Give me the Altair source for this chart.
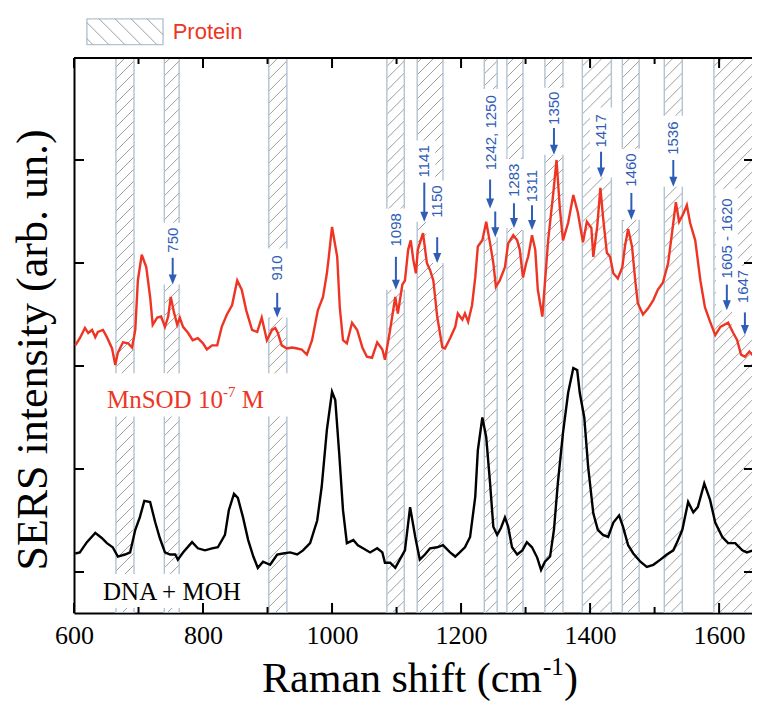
import altair as alt
import pandas as pd

# ---------------- data ----------------
wn_red = [602, 609, 617, 622, 628, 633, 637, 645, 651, 659,
          664, 668, 676, 684, 690, 695, 699, 705, 712, 718,
          722, 729, 735, 741, 746, 750, 755, 760, 764, 769,
          777, 784, 792, 800, 806, 814, 822, 829, 837, 845,
          853, 860, 867, 876, 884, 891, 899, 907, 912, 916,
          922, 930, 938, 946, 953, 961, 969, 978, 986, 992,
          995, 1000, 1008, 1012, 1017, 1023, 1031, 1039, 1047, 1054,
          1062, 1070, 1078, 1082, 1090, 1098, 1102, 1109, 1113, 1118,
          1122, 1126, 1130, 1133, 1141, 1147, 1152, 1157, 1163, 1171,
          1175, 1183, 1191, 1195, 1202, 1206, 1211, 1217, 1222, 1226,
          1233, 1239, 1245, 1250, 1254, 1260, 1268, 1273, 1281, 1287,
          1291, 1296, 1301, 1304, 1310, 1315, 1319, 1326, 1330, 1335,
          1343, 1348, 1353, 1358, 1366, 1374, 1381, 1389, 1395, 1402,
          1405, 1411, 1416, 1420, 1426, 1431, 1436, 1443, 1450, 1454,
          1459, 1465, 1470, 1474, 1482, 1490, 1498, 1505, 1513, 1521,
          1527, 1533, 1538, 1544, 1550, 1555, 1563, 1571, 1578, 1586,
          1594, 1602, 1614, 1622, 1628, 1634, 1640, 1647, 1654, 1664]
int_red = [2.20, 2.27, 2.37, 2.32, 2.35, 2.28, 2.33, 2.35, 2.28, 2.17,
           2.01, 2.13, 2.23, 2.22, 2.18, 2.35, 2.83, 3.08, 2.96, 2.67,
           2.40, 2.47, 2.48, 2.38, 2.48, 2.67, 2.52, 2.40, 2.47, 2.38,
           2.32, 2.25, 2.27, 2.22, 2.16, 2.20, 2.20, 2.38, 2.50, 2.59,
           2.83, 2.74, 2.54, 2.35, 2.33, 2.47, 2.25, 2.35, 2.37, 2.32,
           2.20, 2.17, 2.18, 2.17, 2.16, 2.11, 2.25, 2.54, 2.67, 2.90,
           3.06, 3.35, 3.06, 2.57, 2.25, 2.22, 2.42, 2.35, 2.18, 2.09,
           2.08, 2.23, 2.16, 2.06, 2.35, 2.67, 2.51, 2.79, 2.83, 3.13,
           3.22, 3.03, 2.90, 3.13, 3.29, 3.00, 2.93, 2.83, 2.48, 2.18,
           2.17, 2.27, 2.38, 2.51, 2.45, 2.51, 2.43, 2.59, 2.86, 3.16,
           3.22, 3.40, 3.19, 3.00, 2.77, 2.83, 2.96, 3.19, 3.27, 3.22,
           3.13, 2.86, 3.00, 3.06, 3.27, 3.13, 2.74, 2.48, 2.81, 3.22,
           3.68, 4.00, 3.54, 3.22, 3.39, 3.66, 3.49, 3.20, 3.40, 3.34,
           3.06, 3.35, 3.73, 3.45, 3.10, 3.06, 2.90, 2.85, 2.96, 3.16,
           3.33, 3.16, 2.83, 2.61, 2.50, 2.56, 2.64, 2.74, 2.81, 3.00,
           3.29, 3.59, 3.40, 3.47, 3.56, 3.39, 3.22, 2.83, 2.57, 2.43,
           2.30, 2.38, 2.42, 2.32, 2.25, 2.11, 2.09, 2.14, 2.09, 2.08]

wn_black = [602, 609, 620, 633, 643, 651, 660, 668, 679, 687,
            695, 702, 709, 718, 726, 733, 741, 749, 757, 761,
            769, 783, 792, 803, 814, 823, 834, 840, 848, 854,
            862, 870, 878, 885, 893, 904, 915, 924, 935, 946,
            955, 966, 977, 984, 992, 1000, 1005, 1011, 1017, 1023,
            1033, 1040, 1048, 1059, 1070, 1078, 1082, 1090, 1098, 1105,
            1113, 1121, 1129, 1136, 1144, 1152, 1163, 1172, 1183, 1191,
            1198, 1206, 1214, 1222, 1226, 1233, 1239, 1245, 1250, 1256,
            1262, 1268, 1273, 1279, 1287, 1295, 1302, 1310, 1318, 1324,
            1330, 1338, 1344, 1350, 1358, 1366, 1374, 1380, 1384, 1391,
            1397, 1405, 1412, 1420, 1428, 1436, 1445, 1451, 1459, 1467,
            1478, 1488, 1498, 1509, 1519, 1529, 1535, 1543, 1552, 1560,
            1567, 1577, 1586, 1594, 1605, 1614, 1625, 1636, 1643, 1653,
            1660]
int_black = [0.18, 0.19, 0.29, 0.38, 0.33, 0.28, 0.24, 0.15, 0.17, 0.19,
             0.41, 0.53, 0.69, 0.68, 0.48, 0.33, 0.19, 0.17, 0.17, 0.12,
             0.19, 0.29, 0.23, 0.21, 0.23, 0.24, 0.36, 0.60, 0.76, 0.72,
             0.53, 0.31, 0.15, 0.04, 0.10, 0.07, 0.17, 0.18, 0.19, 0.17,
             0.21, 0.28, 0.50, 0.83, 1.38, 1.75, 1.67, 1.16, 0.60, 0.28,
             0.31, 0.26, 0.23, 0.19, 0.23, 0.19, 0.09, 0.09, 0.04, 0.12,
             0.21, 0.63, 0.34, 0.12, 0.17, 0.23, 0.24, 0.26, 0.19, 0.15,
             0.19, 0.24, 0.34, 0.73, 1.18, 1.50, 1.31, 0.86, 0.44, 0.36,
             0.43, 0.53, 0.44, 0.24, 0.17, 0.21, 0.29, 0.24, 0.14, 0.02,
             0.10, 0.15, 0.41, 0.86, 1.35, 1.74, 1.98, 1.96, 1.74, 1.50,
             1.02, 0.57, 0.41, 0.36, 0.34, 0.48, 0.55, 0.44, 0.26, 0.18,
             0.10, 0.05, 0.07, 0.12, 0.17, 0.21, 0.29, 0.41, 0.68, 0.58,
             0.63, 0.86, 0.70, 0.48, 0.34, 0.28, 0.28, 0.21, 0.19, 0.21,
             0.14]

# protein bands (cm-1)
band_lo = [665, 740, 902, 1085, 1132, 1236, 1271, 1330, 1388, 1450, 1515, 1592]
band_hi = [693, 763, 930, 1112, 1172, 1256, 1296, 1358, 1433, 1476, 1543, 1656]

# peak labels
peak_labels = ["750", "910", "1098", "1141", "1150", "1242, 1250", "1283",
               "1311", "1350", "1417", "1460", "1536", "1605 - 1620", "1647"]
peak_label_x = [753, 915, 1099, 1143, 1163, 1246, 1282, 1310, 1344, 1417,
                1464, 1529, 1612, 1637]
peak_label_base = [3.10, 2.83, 3.16, 3.83, 3.44, 3.90, 3.64, 3.59, 4.34,
                   4.12, 3.74, 4.05, 2.85, 2.61]
peak_label_top = [3.35, 3.10, 3.49, 4.15, 3.76, 4.65, 3.97, 3.92, 4.66,
                  4.47, 4.07, 4.39, 3.68, 2.93]
# arrows (one label may own two arrows)
arrow_x = [753, 915, 1099, 1143, 1163, 1245, 1253, 1282, 1310, 1344, 1417,
           1464, 1529, 1612, 1640]
arrow_from = [3.05, 2.71, 3.06, 3.78, 3.25, 3.81, 3.50, 3.58, 3.56, 4.31,
              4.08, 3.68, 4.00, 2.79, 2.52]
arrow_to = [2.79, 2.47, 2.74, 3.40, 3.00, 3.53, 3.25, 3.34, 3.32, 4.05,
            3.83, 3.42, 3.74, 2.54, 2.30]
arrow_group = [0, 1, 2, 3, 4, 5, 5, 6, 7, 8, 9, 10, 11, 12, 13]

x_ticks_major = [600, 800, 1000, 1200, 1400, 1600]
x_ticks_minor = [700, 900, 1100, 1300, 1500]
y_ticks = [0, 1, 2, 3, 4]

# ---------------- layout / style ----------------
W, H = 678, 555
XMIN, XMAX = 600, 1651
YMIN, YMAX = -0.398, 4.990
PXX = W / (XMAX - XMIN)
PXY = H / (YMAX - YMIN)
RED = "#ee3524"
BLUE = "#2f5db6"
HATCH = "#9e9e9e"
EDGE = "#b3c3d2"
SERIF = "Liberation Serif"
SANS = "Liberation Sans"

xs = alt.Scale(domain=[XMIN, XMAX], nice=False, zero=False)
ys = alt.Scale(domain=[YMIN, YMAX], nice=False, zero=False)
xax = alt.Axis(values=x_ticks_major, format="d", title=None, ticks=False,
               grid=False, domain=True, domainColor="black", domainWidth=2,
               labelFont=SERIF, labelFontSize=26, labelColor="black",
               labelPadding=9, labelFlush=False, labelOverlap=False)
yax = alt.Axis(labels=False, ticks=False, grid=False, title=None,
               domain=True, domainColor="black", domainWidth=2)


def X(f):
    return alt.X(f, type="quantitative", scale=xs, axis=xax)


def Y(f):
    return alt.Y(f, type="quantitative", scale=ys, axis=yax)


one = pd.DataFrame({"a": [0]})

# hatch lines of the bands ("/")
hatch_rows = []
step = 12 / PXY
for lo, hi in zip(band_lo, band_hi):
    rise = (hi - lo) * PXX / PXY
    v = YMIN - rise
    while v < YMAX:
        hatch_rows.append({"x": lo, "x2": hi, "y": v, "y2": v + rise})
        v += step
hatch = alt.Chart(pd.DataFrame(hatch_rows)).mark_rule(
    clip=True, color=HATCH, strokeWidth=1
).encode(x=X("x"), x2="x2", y=Y("y"), y2="y2")

bands_df = pd.DataFrame({"lo": band_lo, "hi": band_hi})
band_edges = alt.Chart(bands_df).mark_rect(
    clip=True, fillOpacity=0, stroke=EDGE, strokeWidth=1.4
).encode(x=X("lo"), x2="hi", y=alt.value(0), y2=alt.value(H))

# white boxes behind the peak labels and the sample labels
box_rows = []
half = 11 / PXX
for i, lab in enumerate(peak_labels):
    xs_i = [arrow_x[k] for k in range(len(arrow_x)) if arrow_group[k] == i]
    tips = [arrow_to[k] for k in range(len(arrow_x)) if arrow_group[k] == i]
    box_rows.append({"x": min(xs_i + [peak_label_x[i]]) - half,
                     "x2": max(xs_i + [peak_label_x[i]]) + half,
                     "y": min(tips), "y2": peak_label_top[i] + 0.04})
box_rows.append({"x": 636, "x2": 938, "y": 1.51, "y2": 1.93})
box_rows.append({"x": 633, "x2": 881, "y": -0.35, "y2": -0.02})
boxes = alt.Chart(pd.DataFrame(box_rows)).mark_rect(
    clip=True, color="white"
).encode(x=X("x"), x2="x2", y=Y("y"), y2="y2")

red_line = alt.Chart(pd.DataFrame({"wn": wn_red, "i": int_red})).mark_line(
    clip=True, color=RED, strokeWidth=2.4
).encode(x=X("wn"), y=Y("i"), order="wn:Q")
black_line = alt.Chart(pd.DataFrame({"wn": wn_black, "i": int_black})).mark_line(
    clip=True, color="black", strokeWidth=2.4
).encode(x=X("wn"), y=Y("i"), order="wn:Q")

arrows_df = pd.DataFrame({"x": arrow_x, "y": arrow_from,
                          "y2": [t + 0.05 for t in arrow_to], "tip": arrow_to})
shafts = alt.Chart(arrows_df).mark_rule(color=BLUE, strokeWidth=2).encode(
    x=X("x"), y=Y("y"), y2="y2")
heads = alt.Chart(arrows_df).mark_point(
    shape="M-0.8,-2L0.8,-2L0,0Z", filled=True, size=100, color=BLUE, opacity=1
).encode(x=X("x"), y=Y("tip"))

labels_df = pd.DataFrame({"x": peak_label_x, "y": peak_label_base,
                          "t": peak_labels})
peak_text = alt.Chart(labels_df).mark_text(
    angle=270, align="left", baseline="middle", font=SANS, fontSize=15,
    color=BLUE
).encode(x=X("x"), y=Y("y"), text="t:N")

# sample labels
mn_df = pd.DataFrame({"x": [651, 860], "y": [1.59, 1.59], "t": ["MnSOD 10", "M"]})
mn_text = alt.Chart(mn_df).mark_text(
    align="left", baseline="alphabetic", font=SERIF, fontSize=25, color=RED
).encode(x=X("x"), y=Y("y"), text="t:N")
mn_sup = alt.Chart(pd.DataFrame({"x": [831], "y": [1.70], "t": ["-7"]})).mark_text(
    align="left", baseline="alphabetic", font=SERIF, fontSize=15, color=RED
).encode(x=X("x"), y=Y("y"), text="t:N")
dna_text = alt.Chart(pd.DataFrame({"x": [645], "y": [-0.27], "t": ["DNA + MOH"]})).mark_text(
    align="left", baseline="alphabetic", font=SERIF, fontSize=25, color="black"
).encode(x=X("x"), y=Y("y"), text="t:N")

# inward ticks and top frame
yt = pd.DataFrame({"v": y_ticks})
ytick_l = alt.Chart(yt).mark_rule(color="black", strokeWidth=2).encode(
    y=Y("v"), x=alt.value(0), x2=alt.value(10))
ytick_r = alt.Chart(yt).mark_rule(color="black", strokeWidth=2).encode(
    y=Y("v"), x=alt.value(W - 8), x2=alt.value(W))
xmaj = pd.DataFrame({"v": x_ticks_major})
xmin_ = pd.DataFrame({"v": x_ticks_minor})
xtick_b = alt.Chart(xmaj).mark_rule(color="black", strokeWidth=2).encode(
    x=X("v"), y=alt.value(H), y2=alt.value(H - 10))
xtick_bm = alt.Chart(xmin_).mark_rule(color="black", strokeWidth=2).encode(
    x=X("v"), y=alt.value(H), y2=alt.value(H - 6))
xtick_t = alt.Chart(xmaj).mark_rule(color="black", strokeWidth=2).encode(
    x=X("v"), y=alt.value(0), y2=alt.value(10))
xtick_tm = alt.Chart(xmin_).mark_rule(color="black", strokeWidth=2).encode(
    x=X("v"), y=alt.value(0), y2=alt.value(6))
top_frame = alt.Chart(one).mark_rule(color="black", strokeWidth=2).encode(
    x=alt.value(0), x2=alt.value(W), y=alt.value(0))

# legend (outside the plot, above)
LX0, LX1, LYT, LYB = 620, 738, 5.37, 5.12
leg_box = alt.Chart(pd.DataFrame({"x": [LX0], "x2": [LX1], "y": [LYB], "y2": [LYT]})).mark_rect(
    fill="white", stroke=EDGE, strokeWidth=1.4
).encode(x=X("x"), x2="x2", y=Y("y"), y2="y2")
lw = (LX1 - LX0) * PXX
lh = (LYT - LYB) * PXY
leg_rows = []
c = -lh + 6
while c < lw:
    t0 = max(0.0, -c)
    t1 = min(lh, lw - c)
    if t1 > t0:
        leg_rows.append({"x": LX0 + (c + t0) / PXX, "y": LYT - t0 / PXY,
                         "x2": LX0 + (c + t1) / PXX, "y2": LYT - t1 / PXY})
    c += 16
leg_hatch = alt.Chart(pd.DataFrame(leg_rows)).mark_rule(color=HATCH, strokeWidth=1).encode(
    x=X("x"), x2="x2", y=Y("y"), y2="y2")
leg_text = alt.Chart(pd.DataFrame({"x": [753], "y": [5.245], "t": ["Protein"]})).mark_text(
    align="left", baseline="middle", font=SANS, fontSize=22, color=RED
).encode(x=X("x"), y=Y("y"), text="t:N")

# axis titles
ytitle = alt.Chart(one).mark_text(
    text="SERS intensity (arb. un.)", angle=270, align="center",
    baseline="alphabetic", font=SERIF, fontSize=44, color="black"
).encode(x=alt.value(-27), y=alt.value(292))
xt1 = alt.Chart(one).mark_text(
    text="Raman shift (cm", align="right", baseline="alphabetic",
    font=SERIF, fontSize=42, color="black"
).encode(x=alt.value(468), y=alt.value(634))
xt2 = alt.Chart(one).mark_text(
    text="-1", align="left", baseline="alphabetic",
    font=SERIF, fontSize=25, color="black"
).encode(x=alt.value(469), y=alt.value(617))
xt3 = alt.Chart(one).mark_text(
    text=")", align="left", baseline="alphabetic",
    font=SERIF, fontSize=42, color="black"
).encode(x=alt.value(490), y=alt.value(634))

chart = alt.layer(
    hatch, band_edges, boxes, red_line, black_line, shafts, heads, peak_text,
    mn_text, mn_sup, dna_text, ytick_l, ytick_r, xtick_b, xtick_bm, xtick_t,
    xtick_tm, top_frame, leg_box, leg_hatch, leg_text, ytitle, xt1, xt2, xt3
).properties(
    width=W, height=H,
    padding={"left": 66, "right": 0, "top": 50, "bottom": 88},
    autosize=alt.AutoSizeParams(type="none"),
    background="white",
).configure_view(stroke=None)

chart.save("out.html", embed_options={"renderer": "svg", "actions": False})
